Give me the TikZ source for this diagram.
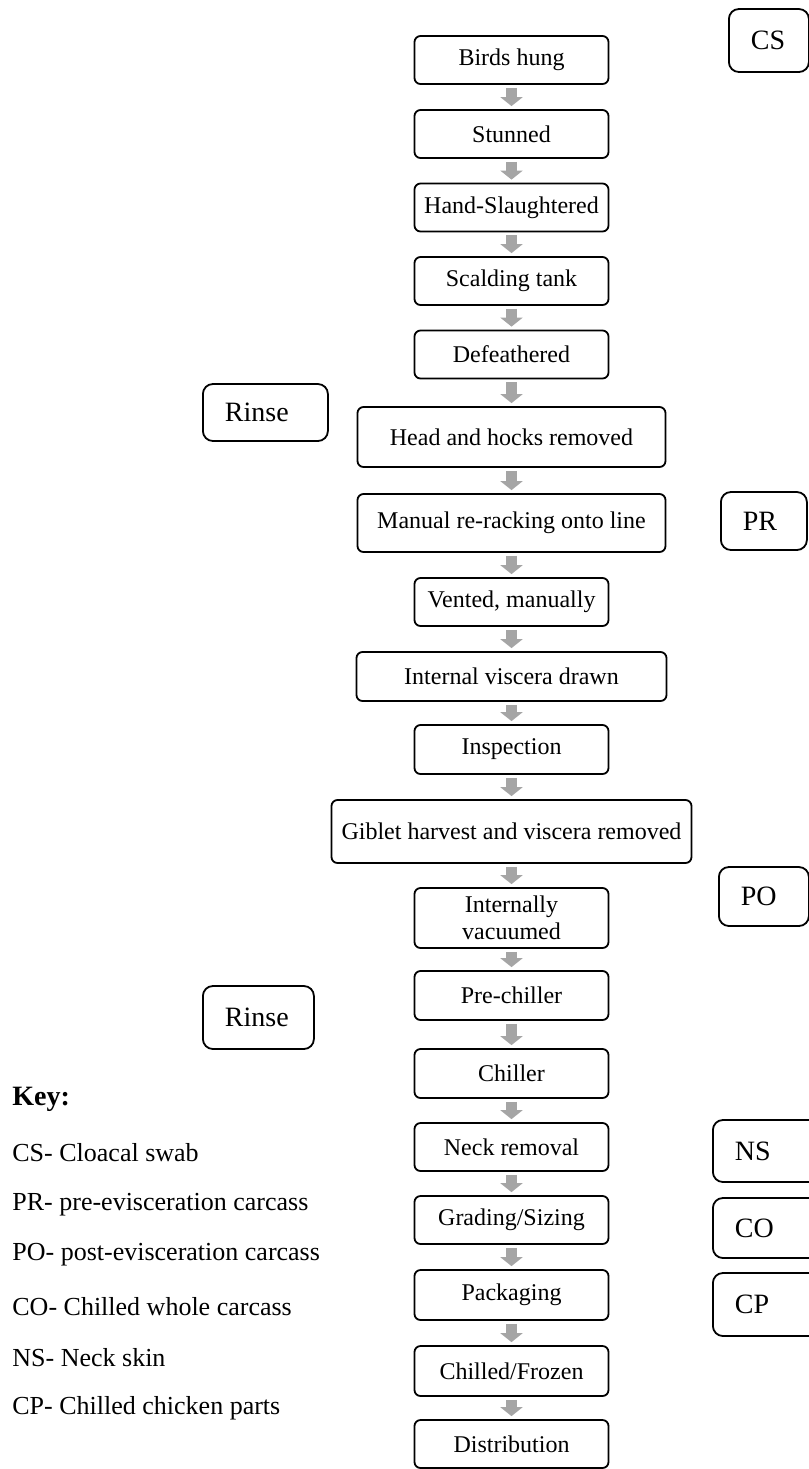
\documentclass[tikz,border=0pt]{standalone}
\usepackage{fontspec}
\setmainfont{Liberation Serif}
\usetikzlibrary{arrows.meta}
\definecolor{flowgray}{RGB}{165,165,165}
\begin{document}
\begin{tikzpicture}[x=0.5pt,y=-0.5pt,
  procbox/.style={draw=black, line width=0.9pt, rounded corners=3pt, align=center, inner sep=0pt, font=\fontsize{12}{13.5}\selectfont, minimum height=24pt, minimum width=97pt},
  sidebox/.style={draw=black, line width=0.9pt, rounded corners=5pt, align=left, inner xsep=11pt, inner ysep=0pt, font=\fontsize{14}{16}\selectfont, anchor=west},
  keytext/.style={anchor=west, inner sep=0pt, font=\fontsize{13}{15}\selectfont},
  keyhead/.style={anchor=west, inner sep=0pt, font=\bfseries\fontsize{14}{16}\selectfont},
  flowarrow/.style={draw=flowgray, line width=5.5pt, -{Triangle[width=11pt,length=4.5pt]}, shorten <=1.5pt, shorten >=1.5pt}
]
\useasboundingbox (0,0) rectangle (809,1469);
\clip (0,0) rectangle (809,1469);
\fill[white] (0,0) rectangle (809,1469);

% process chain
\node[procbox] (n1) at (511.5,60) {Birds hung};
\node[procbox] (n2) at (511.5,134) {Stunned};
\node[procbox] (n3) at (511.5,207.5) {Hand-Slaughtered};
\node[procbox] (n4) at (511.5,281) {Scalding tank};
\node[procbox] (n5) at (511.5,354.5) {Defeathered};
\node[procbox, minimum width=154pt, minimum height=30pt] (n6) at (511.5,437) {Head and hocks removed};
\node[procbox, minimum width=154pt, minimum height=29pt] (n7) at (511.5,523) {Manual re-racking onto line};
\node[procbox] (n8) at (511.5,602) {Vented, manually};
\node[procbox, minimum width=155pt, minimum height=24.5pt] (n9) at (511.5,676.5) {Internal viscera drawn};
\node[procbox, minimum height=24.5pt] (n10) at (511.5,749.5) {Inspection};
\node[procbox, minimum width=180pt, minimum height=31.5pt] (n11) at (511.5,831.5) {Giblet harvest and viscera removed};
\node[procbox, minimum height=30pt] (n12) at (511.5,918) {Internally\\vacuumed};
\node[procbox, minimum height=24.5pt] (n13) at (511.5,995.5) {Pre-chiller};
\node[procbox, minimum height=24.5pt] (n14) at (511.5,1073.5) {Chiller};
\node[procbox] (n15) at (511.5,1147) {Neck removal};
\node[procbox] (n16) at (511.5,1220) {Grading/Sizing};
\node[procbox, minimum height=25pt] (n17) at (511.5,1295) {Packaging};
\node[procbox, minimum height=25pt] (n18) at (511.5,1371) {Chilled/Frozen};
\node[procbox] (n19) at (511.5,1444) {Distribution};

\foreach \a/\b in {n1/n2,n2/n3,n3/n4,n4/n5,n5/n6,n6/n7,n7/n8,n8/n9,n9/n10,n10/n11,n11/n12,n12/n13,n13/n14,n14/n15,n15/n16,n16/n17,n17/n18,n18/n19}
  \draw[flowarrow] (\a) -- (\b);

% sampling points
\node[sidebox, text width=18pt, minimum height=31.5pt] (cs) at (728,40.5) {CS};
\node[sidebox, text width=40.5pt, minimum height=28.5pt] (rinse1) at (202,412.5) {Rinse};
\node[sidebox, text width=21pt, minimum height=29pt] (pr) at (720,521) {PR};
\node[sidebox, text width=23pt, minimum height=29.5pt] (po) at (718,896.5) {PO};
\node[sidebox, text width=33.5pt, minimum height=31.5pt] (rinse2) at (202,1017.5) {Rinse};
\node[sidebox, text width=38pt, minimum height=31pt] (ns) at (712,1151) {NS};
\node[sidebox, text width=38pt, minimum height=30pt] (co) at (712,1228) {CO};
\node[sidebox, text width=38pt, minimum height=31.5pt] (cp) at (712,1304.5) {CP};

% key
\node[keyhead] (key) at (12,1099) {Key:};
\node[keytext] (k1) at (12,1153) {CS- Cloacal swab};
\node[keytext] (k2) at (12,1205) {PR- pre-evisceration carcass};
\node[keytext] (k3) at (12,1255) {PO- post-evisceration carcass};
\node[keytext] (k4) at (12,1307) {CO- Chilled whole carcass};
\node[keytext] (k5) at (12,1358) {NS- Neck skin};
\node[keytext] (k6) at (12,1408) {CP- Chilled chicken parts};
\end{tikzpicture}
\end{document}
